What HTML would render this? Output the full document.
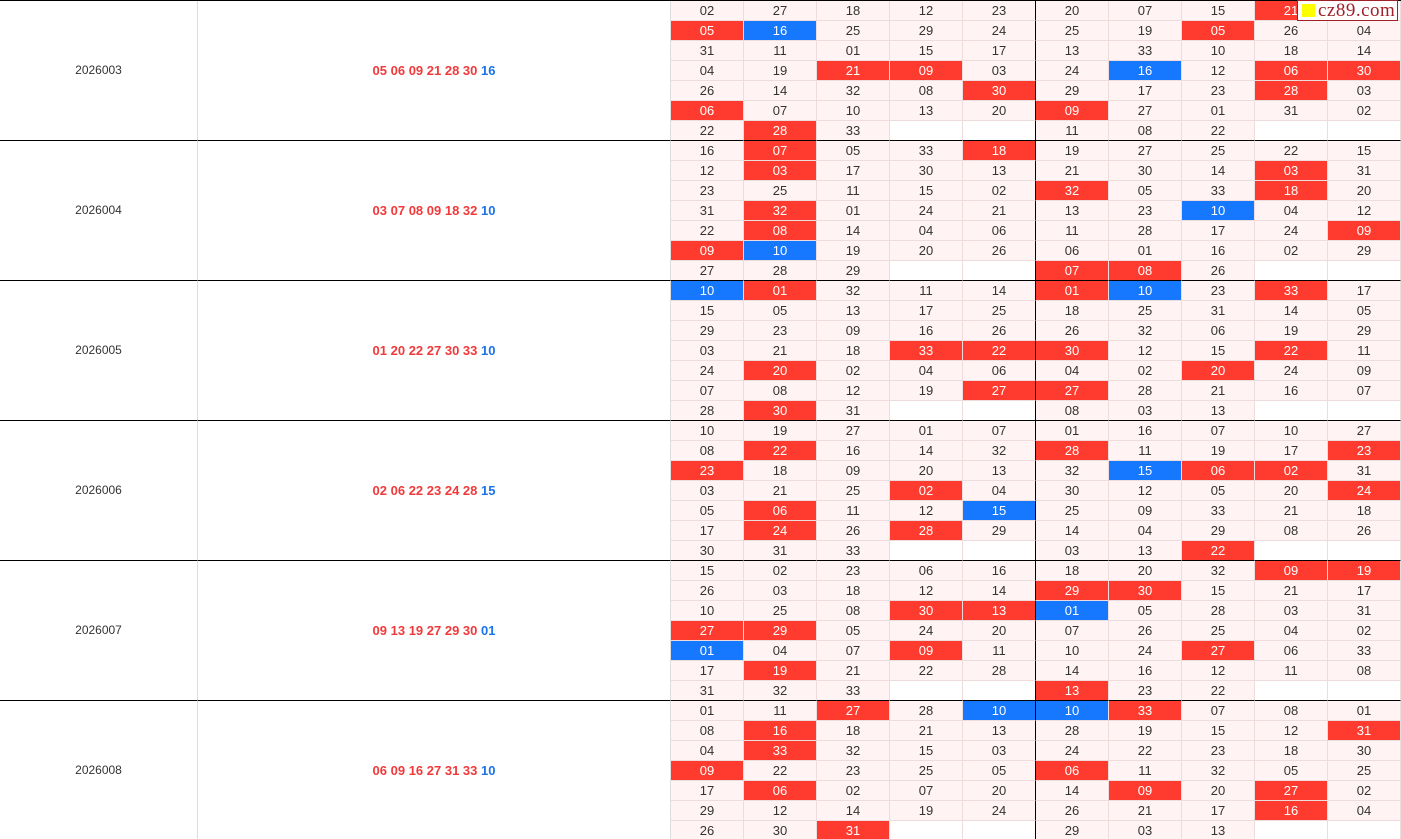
<!DOCTYPE html>
<html><head><meta charset="utf-8"><style>
html,body{margin:0;padding:0;background:#fff;width:1401px;height:839px;overflow:hidden}
body{font-family:"Liberation Sans","DejaVu Sans",sans-serif;font-size:13px;color:#333;position:relative}
table{border-collapse:separate;border-spacing:0;table-layout:fixed;width:1401px;position:absolute;left:0;top:1px}
td{height:19px;padding:0;text-align:center;border:0;border-right:1px solid #eedcdc;border-bottom:1px solid #eedcdc;background:#fff4f3;line-height:19px;overflow:hidden;white-space:nowrap}
td.i{background:#fff;border-right:1px solid #ddd;font-size:12px}
td.n{background:#fff;border-right:1px solid #ddd;font-weight:bold;color:#f2393a}
td.n b{color:#1a73e8}
td.r{background:#ff3b30;color:#fff}
td.b{background:#1677ff;color:#fff}
td.e{background:#fff}
td:has(+ td.k){border-right-color:#000}
tr.l td, td.i, td.n{border-bottom:1px solid #000}
.top{position:absolute;left:0;top:0;width:1401px;height:1px;background:#000}
.logo{position:absolute;left:1297px;top:0;width:101px;height:21px;background:#fff;border:1px solid #a0202a;font-family:"Liberation Serif",serif;font-size:19px;color:#a0202a;line-height:19px;box-sizing:border-box;padding-left:20px;letter-spacing:0.5px}
.logo i{position:absolute;left:4px;top:3px;width:13px;height:13px;background:#ffff00}
</style></head><body>
<table>
<colgroup><col style="width:198px"><col style="width:473px"><col span="10" style="width:73px"></colgroup>
<tr><td class="i" rowspan="7">2026003</td><td class="n" rowspan="7">05 06 09 21 28 30 <b>16</b></td><td>02</td><td>27</td><td>18</td><td>12</td><td>23</td><td class="k">20</td><td>07</td><td>15</td><td class="r">21</td><td></td></tr>
<tr><td class="r">05</td><td class="b">16</td><td>25</td><td>29</td><td>24</td><td class="k">25</td><td>19</td><td class="r">05</td><td>26</td><td>04</td></tr>
<tr><td>31</td><td>11</td><td>01</td><td>15</td><td>17</td><td class="k">13</td><td>33</td><td>10</td><td>18</td><td>14</td></tr>
<tr><td>04</td><td>19</td><td class="r">21</td><td class="r">09</td><td>03</td><td class="k">24</td><td class="b">16</td><td>12</td><td class="r">06</td><td class="r">30</td></tr>
<tr><td>26</td><td>14</td><td>32</td><td>08</td><td class="r">30</td><td class="k">29</td><td>17</td><td>23</td><td class="r">28</td><td>03</td></tr>
<tr><td class="r">06</td><td>07</td><td>10</td><td>13</td><td>20</td><td class="k r">09</td><td>27</td><td>01</td><td>31</td><td>02</td></tr>
<tr class="l"><td>22</td><td class="r">28</td><td>33</td><td class="e"></td><td class="e"></td><td class="k">11</td><td>08</td><td>22</td><td class="e"></td><td class="e"></td></tr>

<tr><td class="i" rowspan="7">2026004</td><td class="n" rowspan="7">03 07 08 09 18 32 <b>10</b></td><td>16</td><td class="r">07</td><td>05</td><td>33</td><td class="r">18</td><td class="k">19</td><td>27</td><td>25</td><td>22</td><td>15</td></tr>
<tr><td>12</td><td class="r">03</td><td>17</td><td>30</td><td>13</td><td class="k">21</td><td>30</td><td>14</td><td class="r">03</td><td>31</td></tr>
<tr><td>23</td><td>25</td><td>11</td><td>15</td><td>02</td><td class="k r">32</td><td>05</td><td>33</td><td class="r">18</td><td>20</td></tr>
<tr><td>31</td><td class="r">32</td><td>01</td><td>24</td><td>21</td><td class="k">13</td><td>23</td><td class="b">10</td><td>04</td><td>12</td></tr>
<tr><td>22</td><td class="r">08</td><td>14</td><td>04</td><td>06</td><td class="k">11</td><td>28</td><td>17</td><td>24</td><td class="r">09</td></tr>
<tr><td class="r">09</td><td class="b">10</td><td>19</td><td>20</td><td>26</td><td class="k">06</td><td>01</td><td>16</td><td>02</td><td>29</td></tr>
<tr class="l"><td>27</td><td>28</td><td>29</td><td class="e"></td><td class="e"></td><td class="k r">07</td><td class="r">08</td><td>26</td><td class="e"></td><td class="e"></td></tr>

<tr><td class="i" rowspan="7">2026005</td><td class="n" rowspan="7">01 20 22 27 30 33 <b>10</b></td><td class="b">10</td><td class="r">01</td><td>32</td><td>11</td><td>14</td><td class="k r">01</td><td class="b">10</td><td>23</td><td class="r">33</td><td>17</td></tr>
<tr><td>15</td><td>05</td><td>13</td><td>17</td><td>25</td><td class="k">18</td><td>25</td><td>31</td><td>14</td><td>05</td></tr>
<tr><td>29</td><td>23</td><td>09</td><td>16</td><td>26</td><td class="k">26</td><td>32</td><td>06</td><td>19</td><td>29</td></tr>
<tr><td>03</td><td>21</td><td>18</td><td class="r">33</td><td class="r">22</td><td class="k r">30</td><td>12</td><td>15</td><td class="r">22</td><td>11</td></tr>
<tr><td>24</td><td class="r">20</td><td>02</td><td>04</td><td>06</td><td class="k">04</td><td>02</td><td class="r">20</td><td>24</td><td>09</td></tr>
<tr><td>07</td><td>08</td><td>12</td><td>19</td><td class="r">27</td><td class="k r">27</td><td>28</td><td>21</td><td>16</td><td>07</td></tr>
<tr class="l"><td>28</td><td class="r">30</td><td>31</td><td class="e"></td><td class="e"></td><td class="k">08</td><td>03</td><td>13</td><td class="e"></td><td class="e"></td></tr>

<tr><td class="i" rowspan="7">2026006</td><td class="n" rowspan="7">02 06 22 23 24 28 <b>15</b></td><td>10</td><td>19</td><td>27</td><td>01</td><td>07</td><td class="k">01</td><td>16</td><td>07</td><td>10</td><td>27</td></tr>
<tr><td>08</td><td class="r">22</td><td>16</td><td>14</td><td>32</td><td class="k r">28</td><td>11</td><td>19</td><td>17</td><td class="r">23</td></tr>
<tr><td class="r">23</td><td>18</td><td>09</td><td>20</td><td>13</td><td class="k">32</td><td class="b">15</td><td class="r">06</td><td class="r">02</td><td>31</td></tr>
<tr><td>03</td><td>21</td><td>25</td><td class="r">02</td><td>04</td><td class="k">30</td><td>12</td><td>05</td><td>20</td><td class="r">24</td></tr>
<tr><td>05</td><td class="r">06</td><td>11</td><td>12</td><td class="b">15</td><td class="k">25</td><td>09</td><td>33</td><td>21</td><td>18</td></tr>
<tr><td>17</td><td class="r">24</td><td>26</td><td class="r">28</td><td>29</td><td class="k">14</td><td>04</td><td>29</td><td>08</td><td>26</td></tr>
<tr class="l"><td>30</td><td>31</td><td>33</td><td class="e"></td><td class="e"></td><td class="k">03</td><td>13</td><td class="r">22</td><td class="e"></td><td class="e"></td></tr>

<tr><td class="i" rowspan="7">2026007</td><td class="n" rowspan="7">09 13 19 27 29 30 <b>01</b></td><td>15</td><td>02</td><td>23</td><td>06</td><td>16</td><td class="k">18</td><td>20</td><td>32</td><td class="r">09</td><td class="r">19</td></tr>
<tr><td>26</td><td>03</td><td>18</td><td>12</td><td>14</td><td class="k r">29</td><td class="r">30</td><td>15</td><td>21</td><td>17</td></tr>
<tr><td>10</td><td>25</td><td>08</td><td class="r">30</td><td class="r">13</td><td class="k b">01</td><td>05</td><td>28</td><td>03</td><td>31</td></tr>
<tr><td class="r">27</td><td class="r">29</td><td>05</td><td>24</td><td>20</td><td class="k">07</td><td>26</td><td>25</td><td>04</td><td>02</td></tr>
<tr><td class="b">01</td><td>04</td><td>07</td><td class="r">09</td><td>11</td><td class="k">10</td><td>24</td><td class="r">27</td><td>06</td><td>33</td></tr>
<tr><td>17</td><td class="r">19</td><td>21</td><td>22</td><td>28</td><td class="k">14</td><td>16</td><td>12</td><td>11</td><td>08</td></tr>
<tr class="l"><td>31</td><td>32</td><td>33</td><td class="e"></td><td class="e"></td><td class="k r">13</td><td>23</td><td>22</td><td class="e"></td><td class="e"></td></tr>

<tr><td class="i" rowspan="7">2026008</td><td class="n" rowspan="7">06 09 16 27 31 33 <b>10</b></td><td>01</td><td>11</td><td class="r">27</td><td>28</td><td class="b">10</td><td class="k b">10</td><td class="r">33</td><td>07</td><td>08</td><td>01</td></tr>
<tr><td>08</td><td class="r">16</td><td>18</td><td>21</td><td>13</td><td class="k">28</td><td>19</td><td>15</td><td>12</td><td class="r">31</td></tr>
<tr><td>04</td><td class="r">33</td><td>32</td><td>15</td><td>03</td><td class="k">24</td><td>22</td><td>23</td><td>18</td><td>30</td></tr>
<tr><td class="r">09</td><td>22</td><td>23</td><td>25</td><td>05</td><td class="k r">06</td><td>11</td><td>32</td><td>05</td><td>25</td></tr>
<tr><td>17</td><td class="r">06</td><td>02</td><td>07</td><td>20</td><td class="k">14</td><td class="r">09</td><td>20</td><td class="r">27</td><td>02</td></tr>
<tr><td>29</td><td>12</td><td>14</td><td>19</td><td>24</td><td class="k">26</td><td>21</td><td>17</td><td class="r">16</td><td>04</td></tr>
<tr class="l"><td>26</td><td>30</td><td class="r">31</td><td class="e"></td><td class="e"></td><td class="k">29</td><td>03</td><td>13</td><td class="e"></td><td class="e"></td></tr>
</table>
<div class="top"></div>
<div class="logo"><i></i>cz89.com</div>
</body></html>
